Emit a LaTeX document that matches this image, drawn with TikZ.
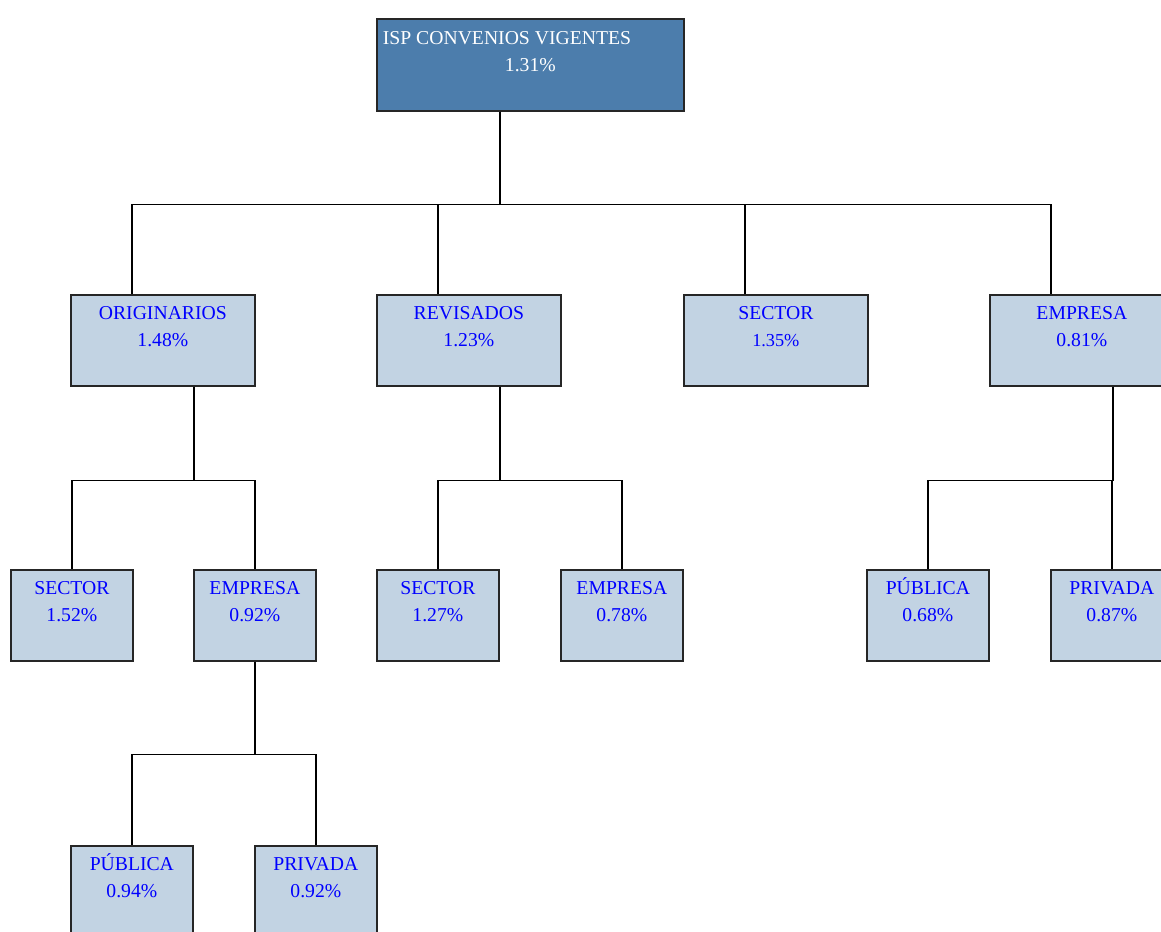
\documentclass[tikz,border=0pt]{standalone}
\usepackage{fontspec}
\setmainfont{Liberation Serif}
\definecolor{ispblue}{HTML}{4C7DAC}
\definecolor{cellfill}{HTML}{C2D3E3}
\begin{document}
\begin{tikzpicture}[x=.02cm,y=-.02cm,
 cell/.style={draw=black!85,line width=1pt,fill=cellfill,text=blue,anchor=north west,
  minimum height=1.82cm,align=center,inner sep=0pt,font=\fontsize{11.2}{15.4}\selectfont},
 wide/.style={cell,minimum width=3.68cm},
 narrow/.style={cell,minimum width=2.44cm},
 link/.style={line width=.8pt,black},
 ]
 \clip (0,0) rectangle (1161,932);
 % root
 \node[cell,fill=ispblue,text=white,minimum width=6.14cm,minimum height=1.84cm] (isp) at (376,18)
  {\makebox[5.9cm][l]{ISP CONVENIOS VIGENTES}\\1.31\%\\\mbox{}};
 % first level
 \node[wide] (ori) at (70,294)  {ORIGINARIOS\\1.48\%\\\mbox{}};
 \node[wide] (rev) at (376,294) {REVISADOS\\1.23\%\\\mbox{}};
 \node[wide] (sec) at (683,294) {SECTOR\\{\fontsize{10.4}{15.4}\selectfont 1.35\%}\\\mbox{}};
 \node[wide] (emp) at (989,294) {EMPRESA\\0.81\%\\\mbox{}};
 % second level
 \node[narrow] (orisec) at (10,569)   {SECTOR\\1.52\%\\\mbox{}};
 \node[narrow] (oriemp) at (193,569)  {EMPRESA\\0.92\%\\\mbox{}};
 \node[narrow] (revsec) at (376,569)  {SECTOR\\1.27\%\\\mbox{}};
 \node[narrow] (revemp) at (560,569)  {EMPRESA\\0.78\%\\\mbox{}};
 \node[narrow] (emppub) at (866,569)  {P\smash{Ú}BLICA\\0.68\%\\\mbox{}};
 \node[narrow] (emppri) at (1050,569) {PRIVADA\\0.87\%\\\mbox{}};
 % third level
 \node[narrow] (oripub) at (70,845)  {P\smash{Ú}BLICA\\0.94\%\\\mbox{}};
 \node[narrow] (oripri) at (254,845) {PRIVADA\\0.92\%\\\mbox{}};

 % connectors
 \foreach \c in {ori,rev,sec,emp}
  \draw[link] ([xshift=-.61cm]isp.south) -- ++(0,93) -| ([xshift=-.62cm]\c.north);
 \foreach \p/\c in {ori/orisec,ori/oriemp,rev/revsec,rev/revemp,emp/emppub,emp/emppri}
  \draw[link] ([xshift=.62cm]\p.south) -- ++(0,94) -| (\c.north);
 \foreach \c in {oripub,oripri}
  \draw[link] (oriemp.south) -- ++(0,93) -| (\c.north);
\end{tikzpicture}
\end{document}
